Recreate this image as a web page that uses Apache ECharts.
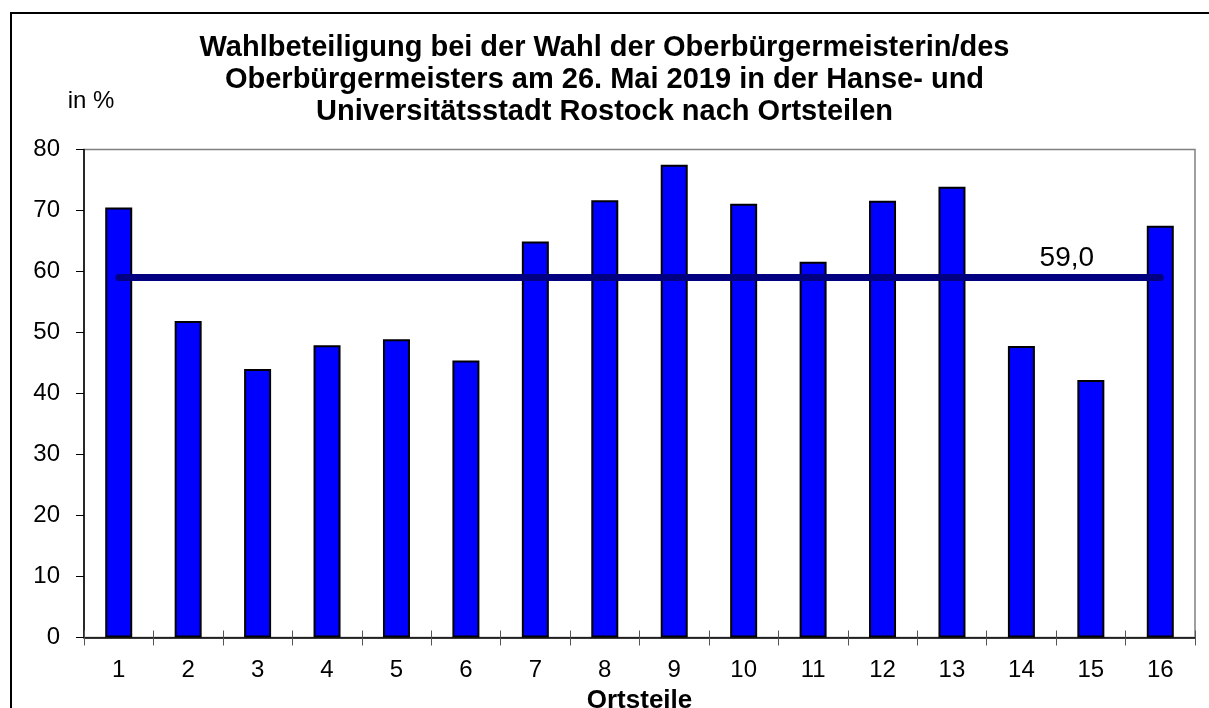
<!DOCTYPE html>
<html>
<head>
<meta charset="utf-8">
<script src="https://cdn.jsdelivr.net/npm/echarts@6/dist/echarts.min.js"></script>
<style>
  html, body { margin: 0; padding: 0; background: #fff; }
  #chart { width: 1209px; height: 708px; }
</style>
</head>
<body>
<div id="chart"></div>
<script>
  // Ortsteile 1..16
  var categories = ['1', '2', '3', '4', '5', '6', '7', '8', '9', '10', '11', '12', '13', '14', '15', '16']
  // Wahlbeteiligung in %
  var turnout = [70.5, 51.9, 44.0, 47.9, 48.9, 45.4, 64.9, 71.7, 77.5, 71.1, 61.6, 71.6, 73.9, 47.8, 42.2, 67.5]
  // Durchschnitt Rostock
  var average = 59.0
  var yTicks = [0, 10, 20, 30, 40, 50, 60, 70, 80]

  var font = 'Liberation Sans, Arial, sans-serif'

  // Beschriftung "59,0" nur an einem Punkt
  var avgData = categories.map(function (c, i) {
    if (i === 14) {
      return {
        value: average,
        label: {
          show: true,
          position: 'top',
          offset: [-24, 0],
          distance: 4,
          formatter: function (p) { return p.value.toFixed(1).replace('.', ',') },
          fontSize: 28,
          fontFamily: font,
          color: '#000'
        }
      }
    }
    return average
  })

  var chart = echarts.init(document.getElementById('chart'))
  chart.setOption({
    backgroundColor: '#fff',
    animation: false,
    title: {
      text: 'Wahlbeteiligung bei der Wahl der Oberbürgermeisterin/des\nOberbürgermeisters am 26. Mai 2019 in der Hanse- und\nUniversitätsstadt Rostock nach Ortsteilen',
      left: 'center',
      top: 27,
      textStyle: {
        fontFamily: font,
        fontWeight: 'bold',
        fontSize: 29,
        lineHeight: 32,
        color: '#000'
      }
    },
    graphic: [{
      type: 'rect',
      shape: { x: 11, y: 13, width: 1220, height: 720 },
      style: { fill: 'none', stroke: '#000', lineWidth: 2 },
      silent: true
    }],
    grid: {
      left: 84,
      right: 14,
      top: 149.5,
      bottom: 70.5,
      outerBoundsMode: 'none',
      containLabel: false,
      show: true,
      borderColor: '#808080',
      borderWidth: 1.5
    },
    xAxis: [{
      type: 'category',
      data: categories,
      boundaryGap: true,
      name: 'Ortsteile',
      nameLocation: 'middle',
      nameGap: 48,
      nameTextStyle: { fontFamily: font, fontWeight: 'bold', fontSize: 26, color: '#000' },
      axisLine: { lineStyle: { color: '#000', width: 1.5 } },
      axisTick: { show: true, length: 8, interval: 0, lineStyle: { color: '#555' } },
      axisLabel: { fontFamily: font, fontSize: 24, color: '#000', margin: 21, interval: 0 }
    }, {
      // nur die nach innen zeigenden Teilstriche
      type: 'category',
      data: categories,
      position: 'bottom',
      axisLine: { show: false },
      axisTick: { show: true, inside: true, length: 7, interval: 0, lineStyle: { color: '#555' } },
      axisLabel: { show: false }
    }],
    yAxis: {
      type: 'value',
      min: yTicks[0],
      max: yTicks[yTicks.length - 1],
      interval: 10,
      name: 'in %',
      nameLocation: 'end',
      nameGap: 36,
      nameTextStyle: { fontFamily: font, fontSize: 24, color: '#000', align: 'center', padding: [0, 0, 0, 14] },
      splitLine: { show: false },
      axisLine: { show: true, lineStyle: { color: '#000', width: 1.5 } },
      axisTick: { show: true, length: 8, lineStyle: { color: '#000' } },
      axisLabel: { fontFamily: font, fontSize: 24, color: '#000', margin: 24 }
    },
    series: [
      {
        name: 'Wahlbeteiligung',
        type: 'bar',
        data: turnout,
        barWidth: 27,
        itemStyle: { color: '#0000ff', borderColor: '#000', borderWidth: 2 },
        z: 2
      },
      {
        name: 'Durchschnitt',
        type: 'line',
        data: avgData,
        symbol: 'circle',
        symbolSize: 2,
        showSymbol: true,
        itemStyle: { color: '#000080' },
        lineStyle: { color: '#000080', width: 7, cap: 'round' },
        z: 3
      }
    ]
  })
</script>
</body>
</html>
